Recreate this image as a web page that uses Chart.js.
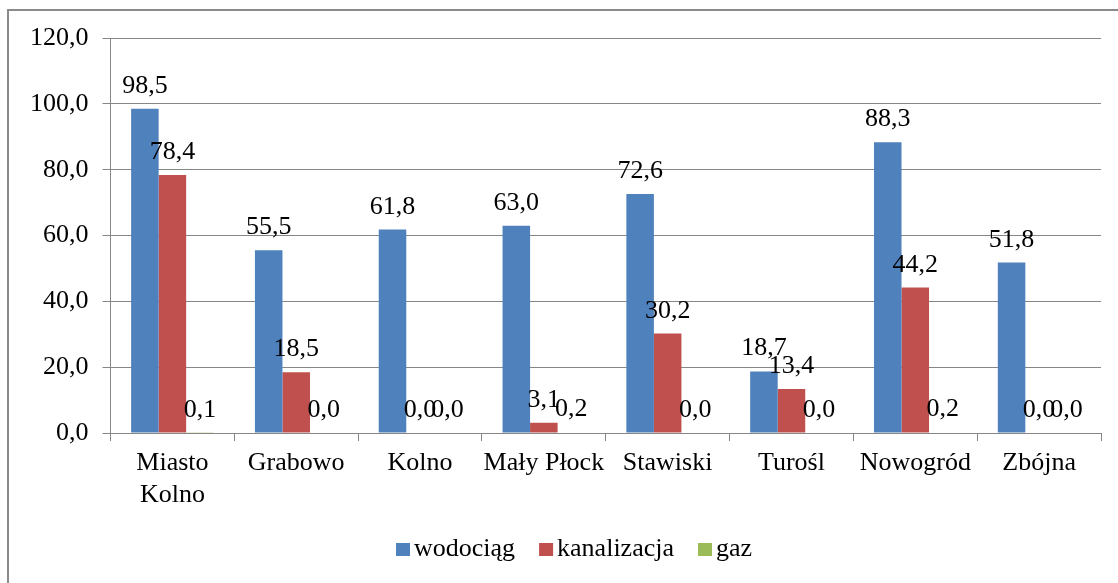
<!DOCTYPE html>
<html>
<head>
<meta charset="utf-8">
<script src="https://cdn.jsdelivr.net/npm/chart.js@4/dist/chart.umd.min.js"></script>
<style>
  html, body { margin: 0; padding: 0; background: #ffffff; overflow: hidden; }
  #wrap { position: relative; width: 1118px; height: 583px; }
  #frame { position: absolute; left: 7px; top: 9px; width: 1200px; height: 700px; border: 2px solid #8a8a8a; box-sizing: border-box; }
  #c { position: absolute; left: 0; top: 0; }
</style>
</head>
<body>
<div id="wrap">
  <div id="frame"></div>
  <canvas id="c" width="1118" height="583"></canvas>
</div>
<script>
const categories = [["Miasto", "Kolno"], "Grabowo", "Kolno", "Mały Płock", "Stawiski", "Turośl", "Nowogród", "Zbójna"];
const seriesNames = ["wodociąg", "kanalizacja", "gaz"];
const wodociag = [98.5, 55.5, 61.8, 63.0, 72.6, 18.7, 88.3, 51.8];
const kanalizacja = [78.4, 18.5, 0.0, 3.1, 30.2, 13.4, 44.2, 0.0];
const gaz = [0.1, 0.0, 0.0, 0.2, 0.0, 0.0, 0.2, 0.0];
const yTicks = [0, 20, 40, 60, 80, 100, 120];

const colors = ["#4F81BD", "#C0504D", "#9BBB59"];
const FONT = "Liberation Serif";
const FS = 26;
const fmt = v => v.toFixed(1).replace('.', ',');

const labelPlugin = {
  id: 'valueLabels',
  afterDatasetsDraw(chart) {
    const ctx = chart.ctx;
    ctx.save();
    ctx.font = FS + "px '" + FONT + "'";
    ctx.fillStyle = "#000000";
    ctx.textAlign = "center";
    ctx.textBaseline = "alphabetic";
    chart.data.datasets.forEach((ds, i) => {
      const meta = chart.getDatasetMeta(i);
      meta.data.forEach((el, j) => {
        ctx.fillText(fmt(ds.data[j]), el.x, el.y - 16);
      });
    });
    ctx.restore();
  }
};

// Excel-like legend: small square, tight gap to the text
const legendPlugin = {
  id: 'excelLegend',
  afterDraw(chart) {
    const ctx = chart.ctx;
    const boxW = 14, boxH = 13, gapText = 4, gapItem = 24, centerX = 574, centerY = 549;
    ctx.save();
    ctx.font = FS + "px '" + FONT + "'";
    ctx.textBaseline = "middle";
    ctx.textAlign = "left";
    const items = chart.data.datasets.map(ds => ({ text: ds.label, color: ds.backgroundColor, w: ctx.measureText(ds.label).width }));
    const total = items.reduce((s, it) => s + boxW + gapText + it.w, 0) + gapItem * (items.length - 1);
    let x = Math.round(centerX - total / 2);
    items.forEach(it => {
      ctx.fillStyle = it.color;
      ctx.fillRect(x, centerY - 6, boxW, boxH);
      ctx.fillStyle = "#000";
      ctx.fillText(it.text, x + boxW + gapText, centerY);
      x += boxW + gapText + it.w + gapItem;
    });
    ctx.restore();
  }
};

new Chart(document.getElementById('c'), {
  type: 'bar',
  data: {
    labels: categories,
    datasets: [
      { label: seriesNames[0], data: wodociag, backgroundColor: colors[0] },
      { label: seriesNames[1], data: kanalizacja, backgroundColor: colors[1] },
      { label: seriesNames[2], data: gaz, backgroundColor: colors[2] }
    ]
  },
  options: {
    responsive: false,
    devicePixelRatio: 1,
    animation: false,
    datasets: { bar: { categoryPercentage: 0.667, barPercentage: 1.0 } },
    layout: { padding: { left: 16, top: 38, right: 17, bottom: 66 } },
    scales: {
      x: {
        grid: { display: true, drawOnChartArea: false, drawTicks: true, tickLength: 8, color: '#868686', offset: true },
        border: { display: true, color: '#868686', width: 1 },
        ticks: { color: '#000', font: { family: FONT, size: FS, lineHeight: 1.23 }, padding: 6, maxRotation: 0, autoSkip: false }
      },
      y: {
        min: 0, max: 120,
        afterBuildTicks: axis => { axis.ticks = yTicks.map(v => ({ value: v })); },
        grid: { color: '#868686', tickLength: 8, drawTicks: true },
        border: { display: true, color: '#868686', width: 1 },
        ticks: { color: '#000', font: { family: FONT, size: FS }, padding: 14, callback: v => fmt(v) }
      }
    },
    plugins: {
      legend: { display: false },
      tooltip: { enabled: false }
    }
  },
  plugins: [labelPlugin, legendPlugin]
});
</script>
</body>
</html>
